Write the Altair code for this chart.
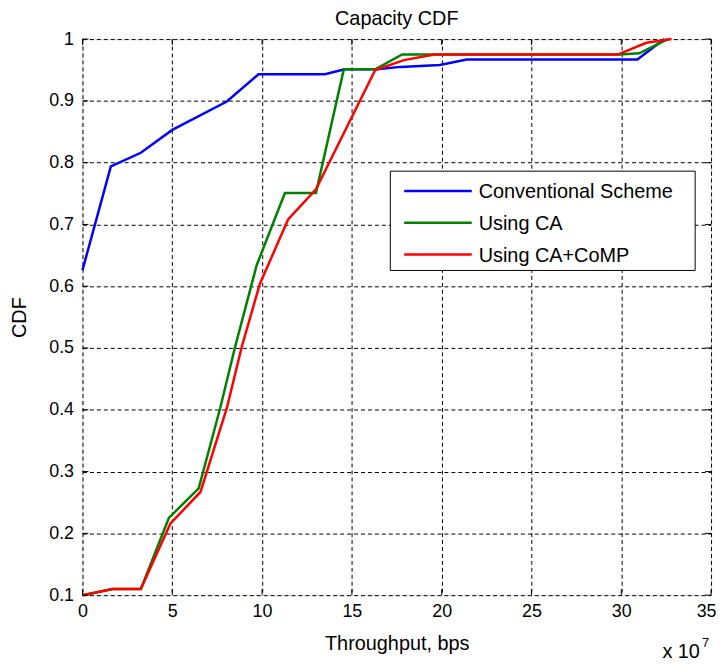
import altair as alt
import pandas as pd

# Data (x in units of 1e7 bps)
series_names = ["Conventional Scheme", "Using CA", "Using CA+CoMP"]
series_colors = ["#0000ff", "#008000", "#ff0000"]

blue_x = [0, 1.58, 3.25, 5.0, 8.04, 9.8, 13.5, 14.6, 16.4, 17.7, 19.9, 21.4, 30.9, 32.4]
blue_y = [0.626, 0.794, 0.816, 0.853, 0.899, 0.943, 0.943, 0.951, 0.951, 0.955, 0.958, 0.967, 0.967, 1.0]

green_x = [0, 1.68, 3.25, 4.81, 6.47, 7.67, 8.5, 9.7, 11.27, 13.0, 14.55, 16.3, 17.8, 29.9, 31.0, 32.6]
green_y = [0.1, 0.11, 0.11, 0.225, 0.273, 0.403, 0.502, 0.634, 0.751, 0.751, 0.951, 0.951, 0.975, 0.975, 0.977, 1.0]

red_x = [0, 1.68, 3.25, 4.9, 6.57, 8.04, 8.87, 9.88, 11.45, 13.0, 16.3, 17.9, 19.6, 29.8, 31.4, 32.8]
red_y = [0.1, 0.11, 0.11, 0.216, 0.267, 0.403, 0.502, 0.604, 0.708, 0.757, 0.95, 0.966, 0.975, 0.975, 0.994, 1.0]

x_ticks = [0, 5, 10, 15, 20, 25, 30, 35]
y_ticks = [0.1, 0.2, 0.3, 0.4, 0.5, 0.6, 0.7, 0.8, 0.9, 1.0]

rows = []
for k, (xs, ys) in enumerate([(blue_x, blue_y), (green_x, green_y), (red_x, red_y)]):
    for i, (xv, yv) in enumerate(zip(xs, ys)):
        rows.append({"series": series_names[k], "x": xv, "y": yv, "order": i, "z": k})
df = pd.DataFrame(rows)

FONT = "Liberation Sans"
W, H = 633, 560
XS = alt.Scale(domain=[0, 35], nice=False)
YS = alt.Scale(domain=[0.1, 1.0], nice=False, zero=False)

X_AXIS = alt.Axis(values=x_ticks, title="Throughput, bps", format="d",
                  labelFont=FONT, labelFontSize=18, labelColor="black",
                  labelPadding=7, labelFlush=False, labelOverlap=False,
                  labelOffset=alt.condition("datum.value == 35", alt.value(-5), alt.value(0)),
                  titleFont=FONT, titleFontSize=20, titleColor="black",
                  titleFontWeight="normal",
                  titleX=316.5, titleY=55, titleBaseline="alphabetic",
                  grid=True, gridColor="black", gridDash=[4, 3], gridWidth=1,
                  gridOpacity=1, ticks=False, domain=False)
Y_AXIS = alt.Axis(values=y_ticks, title="CDF", format=".1~f",
                  labelFont=FONT, labelFontSize=18, labelColor="black",
                  labelPadding=9, labelFlush=False, labelOverlap=False,
                  titleFont=FONT, titleFontSize=20, titleColor="black",
                  titleFontWeight="normal",
                  titleX=-63, titleY=280, titleAngle=-90,
                  titleBaseline="middle", titleAlign="center",
                  grid=True, gridColor="black", gridDash=[4, 3], gridWidth=1,
                  gridOpacity=1, ticks=False, domain=False)

lines = alt.Chart(df).mark_line(strokeWidth=2.5).encode(
    x=alt.X("x:Q", scale=XS, axis=X_AXIS),
    y=alt.Y("y:Q", scale=YS, axis=Y_AXIS),
    color=alt.Color("series:N",
                    scale=alt.Scale(domain=series_names, range=series_colors),
                    legend=None),
    order=alt.Order("order:Q"),
    detail="z:N",
)

# inward tick marks on all four sides (MATLAB style box)
xt = pd.DataFrame({"x": x_ticks})
yt = pd.DataFrame({"y": y_ticks})
tick_layers = [
    alt.Chart(xt).mark_rule(color="black", strokeWidth=1).encode(
        x=alt.X("x:Q", scale=XS, axis=X_AXIS), y=alt.value(H), y2=alt.value(H - 6)),
    alt.Chart(xt).mark_rule(color="black", strokeWidth=1).encode(
        x=alt.X("x:Q", scale=XS, axis=X_AXIS), y=alt.value(0), y2=alt.value(6)),
    alt.Chart(yt).mark_rule(color="black", strokeWidth=1).encode(
        y=alt.Y("y:Q", scale=YS, axis=Y_AXIS), x=alt.value(0), x2=alt.value(6)),
    alt.Chart(yt).mark_rule(color="black", strokeWidth=1).encode(
        y=alt.Y("y:Q", scale=YS, axis=Y_AXIS), x=alt.value(W), x2=alt.value(W - 6)),
]

# legend box drawn inside the plot
one = pd.DataFrame({"a": [0]})
legend_layers = [
    alt.Chart(one).mark_rect(fill="white", stroke="black", strokeWidth=1).encode(
        x=alt.value(310), x2=alt.value(617), y=alt.value(133), y2=alt.value(233))
]
for i, (name, col) in enumerate(zip(series_names, series_colors)):
    yy = 153 + 32 * i
    leg = pd.DataFrame({"t": [name]})
    legend_layers.append(
        alt.Chart(leg).mark_rule(color=col, strokeWidth=2.5).encode(
            x=alt.value(324), x2=alt.value(392), y=alt.value(yy)))
    legend_layers.append(
        alt.Chart(leg).mark_text(font=FONT, fontSize=20, align="left",
                                 baseline="middle", color="black").encode(
            x=alt.value(399), y=alt.value(yy + 1), text="t:N"))

title_text = alt.Chart(pd.DataFrame({"t": ["Capacity CDF"]})).mark_text(
    font=FONT, fontSize=20, align="center", baseline="alphabetic", color="black"
).encode(x=alt.value(W / 2), y=alt.value(-14), text="t:N")

exp_text = alt.Chart(pd.DataFrame({"t": ["x 10"]})).mark_text(
    font=FONT, fontSize=20, align="left", baseline="alphabetic", color="black"
).encode(x=alt.value(584), y=alt.value(623), text="t:N")
exp_sup = alt.Chart(pd.DataFrame({"t": ["7"]})).mark_text(
    font=FONT, fontSize=13, align="left", baseline="alphabetic", color="black"
).encode(x=alt.value(624), y=alt.value(612), text="t:N")

chart = alt.layer(lines, *tick_layers, *legend_layers, title_text, exp_text, exp_sup).properties(
    width=W, height=H,
    autosize=alt.AutoSizeParams(type="none"),
    padding={"left": 75, "top": 29, "right": 6, "bottom": 64},
).configure_view(
    stroke="black", strokeWidth=1.5
).configure(background="white")

chart.save("out.html", embed_options={"renderer": "svg", "actions": False})
